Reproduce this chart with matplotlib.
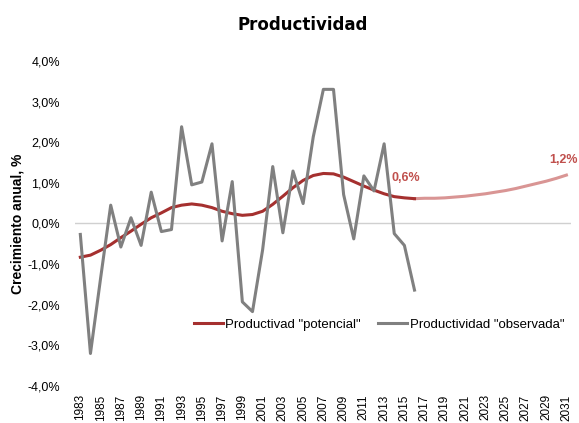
import matplotlib.pyplot as plt

plt.rcParams['font.family'] = ['Liberation Sans', 'DejaVu Sans']

# años del eje x
anios = list(range(1983, 2032))

# productividad observada, 1983-2016 (%)
observada = [-0.27, -3.2, -1.35, 0.45, -0.58, 0.14, -0.54, 0.77, -0.2, -0.15,
             2.38, 0.95, 1.02, 1.96, -0.43, 1.03, -1.93, -2.17, -0.65, 1.40,
             -0.23, 1.29, 0.49, 2.13, 3.30, 3.30, 0.71, -0.38, 1.17, 0.80,
             1.96, -0.25, -0.54, -1.64]

# productividad potencial, 1983-2016 (%)
potencial = [-0.83, -0.78, -0.66, -0.52, -0.35, -0.19, -0.02, 0.14, 0.26, 0.39,
             0.45, 0.48, 0.45, 0.39, 0.30, 0.24, 0.20, 0.22, 0.30, 0.47,
             0.67, 0.88, 1.06, 1.18, 1.23, 1.22, 1.14, 1.03, 0.92, 0.82,
             0.73, 0.66, 0.63, 0.61]

# proyeccion de la potencial, 2016-2031 (%)
proyeccion = [0.61, 0.62, 0.62, 0.63, 0.65, 0.67, 0.70, 0.73, 0.77, 0.81,
              0.86, 0.92, 0.98, 1.04, 1.11, 1.19]

anios_obs = anios[:len(observada)]
anios_proy = anios[len(potencial) - 1:]

fig = plt.figure(figsize=(5.79, 4.23), dpi=100)
ax = fig.add_axes([0.130, 0.0875, 0.857, 0.7685])

ax.axhline(0, color='#d0d0d0', lw=1, zorder=1)
ax.plot(anios_proy, proyeccion, color='#d99594', lw=2.2, zorder=2)
ax.plot(anios_obs, potencial, color='#a5302f', lw=2.2, zorder=3,
        label='Productivad "potencial"')
ax.plot(anios_obs, observada, color='#808080', lw=2.2, zorder=4,
        label='Productividad "observada"')

# etiquetas de valores
ax.text(anios_obs[-1] - 2.3, potencial[-1] + 0.5, '0,6%', color='#c0504d',
        fontsize=9, fontweight='bold', ha='left', va='center')
ax.text(anios[-1] + 1.1, proyeccion[-1] + 0.37, '1,2%', color='#c0504d',
        fontsize=9, fontweight='bold', ha='right', va='center', clip_on=False)

ax.set_xlim(1982.5, 2031.5)
ax.set_ylim(-4, 4)
ax.set_xticks(anios[::2])
ax.set_xticklabels([str(a) for a in anios[::2]], rotation=90, fontsize=8.5)
ax.set_yticks(range(-4, 5))
ax.set_yticklabels([f'{v},0%' for v in range(-4, 5)], fontsize=9)
ax.tick_params(length=0)
ax.tick_params(axis='x', pad=6)
ax.tick_params(axis='y', pad=11)
for s in ax.spines.values():
    s.set_visible(False)

ax.set_ylabel('Crecimiento anual, %', fontsize=10, fontweight='bold')
ax.yaxis.set_label_coords(-0.102, 0.5)
fig.suptitle('Productividad', fontsize=12, fontweight='bold',
             family='DejaVu Sans', x=0.523, y=0.963)

fig.legend(loc='center right', bbox_to_anchor=(0.995, 0.232), ncol=2,
           frameon=False, fontsize=9.5, handlelength=2.2, handletextpad=0.2,
           columnspacing=1.3)

fig.savefig('out.png', dpi=100)
